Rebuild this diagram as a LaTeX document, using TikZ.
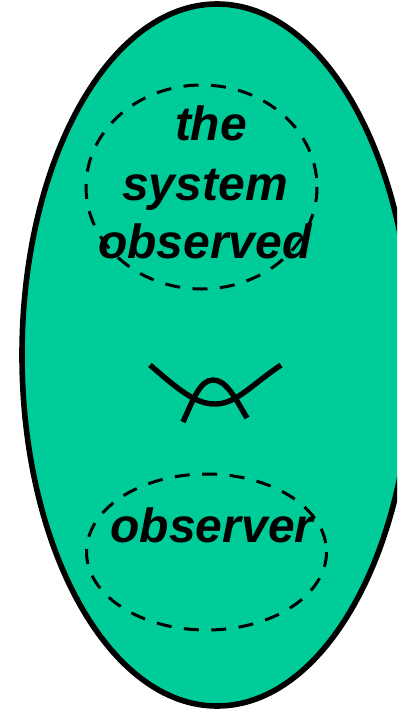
\documentclass[tikz,border=0pt]{standalone}
\usepackage{fontspec}
\setmainfont{Liberation Sans}
\definecolor{bodygreen}{RGB}{0,204,153}
\tikzset{
  dashring/.style={draw=black,line width=3pt,dash pattern=on 15pt off 12.5pt},
  lab/.style={font=\fontsize{48}{58}\selectfont\bfseries\itshape,align=center,inner sep=0pt,anchor=base,text=black},
  curveline/.style={draw=black,line width=5.4pt}
}
\begin{document}
\begin{tikzpicture}[x=1pt,y=-1pt]
\useasboundingbox (0,0) rectangle (397,709);
\fill[white] (0,0) rectangle (397,709);
\begin{scope}
\clip (0,0) rectangle (397,709);
\draw[fill=bodygreen,line width=5.6pt,draw=black] (217,355) ellipse [x radius=195,y radius=351];
\end{scope}
\draw[dashring] (201.5,187) ellipse [x radius=115.5,y radius=102];
\draw[dashring] (206.5,552) ellipse [x radius=120,y radius=78];
\node[lab] (the) at (211,140) {the};
\node[lab] (system) at (205,200) {system};
\node[lab] (observed) at (205,258) {observed};
\node[lab] (observer) at (212,542) {observer};
\draw[curveline] (150,365) .. controls (180,391) and (196,404) .. (215,404) .. controls (236,404) and (250,386) .. (281,365);
\draw[curveline] (183,422) .. controls (193,400) and (200,380) .. (213,380) .. controls (226,380) and (234,396) .. (247,418);
\end{tikzpicture}
\end{document}
